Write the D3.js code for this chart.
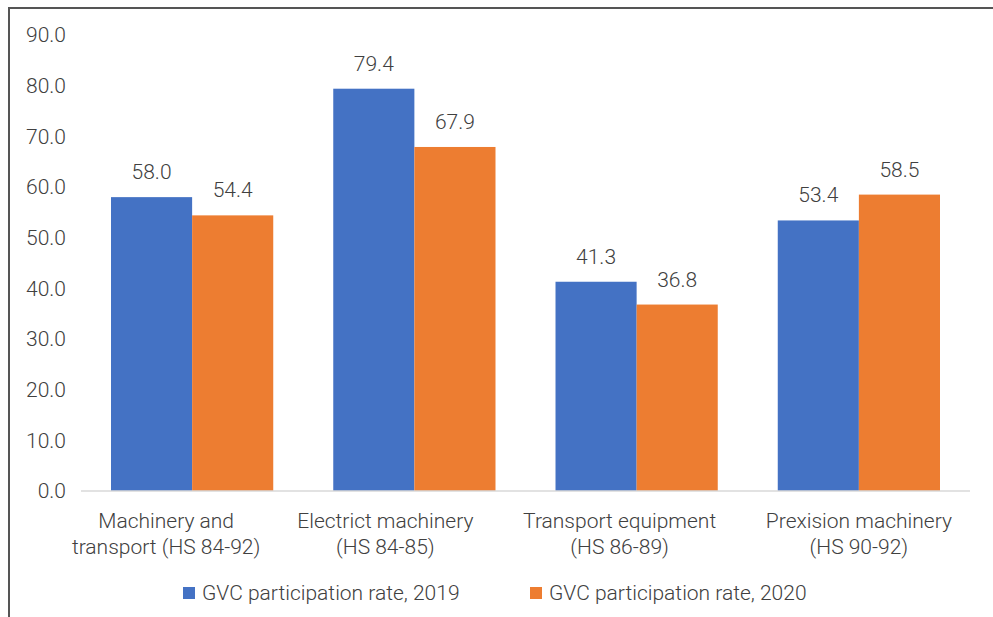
<!DOCTYPE html>
<html>
<head>
<meta charset="utf-8">
<script src="https://cdn.jsdelivr.net/npm/d3@7"></script>
<style>
  html, body { margin: 0; padding: 0; background: #fff; }
  svg { display: block; font-family: Roboto, "Noto Sans", sans-serif; font-weight: 300; }
</style>
</head>
<body>
<svg id="chart" width="993" height="617"></svg>
<script>
// Category labels (two lines each)
const categories = [
  ["Machinery and", "transport (HS 84-92)"],
  ["Electrict machinery", "(HS 84-85)"],
  ["Transport equipment", "(HS 86-89)"],
  ["Prexision machinery", "(HS 90-92)"]
];
const seriesNames = ["GVC participation rate, 2019", "GVC participation rate, 2020"];
const values2019 = [58.0, 79.4, 41.3, 53.4];
const values2020 = [54.4, 67.9, 36.8, 58.5];
const yTicks = [0, 10, 20, 30, 40, 50, 60, 70, 80, 90];
const colors = ["#4472C4", "#ED7D31"];

const svg = d3.select("#chart");
const textColor = "#404040";
const fontSize = 21;

// Outer frame lines (top and left)
svg.append("line").attr("x1", 8).attr("x2", 993).attr("y1", 8).attr("y2", 8)
  .attr("stroke", "#555").attr("stroke-width", 2);
svg.append("line").attr("x1", 9).attr("x2", 9).attr("y1", 7).attr("y2", 617)
  .attr("stroke", "#555").attr("stroke-width", 2);

const plot = { left: 81, right: 970, top: 35, bottom: 491 };

const x0 = d3.scaleBand()
  .domain(d3.range(categories.length))
  .range([plot.left, plot.right])
  .paddingInner(0.27).paddingOuter(0.135);
const x1 = d3.scaleBand().domain([0, 1]).range([0, x0.bandwidth()]);
const y = d3.scaleLinear().domain([0, 90]).range([plot.bottom, plot.top]);

// Y axis labels
const yAxis = svg.append("g").attr("transform", `translate(${plot.left},0)`)
  .call(d3.axisLeft(y).tickValues(yTicks).tickFormat(d3.format(".1f")).tickSize(0).tickPadding(15));
yAxis.select(".domain").remove();
yAxis.selectAll("text").attr("font-size", fontSize).attr("fill", textColor)
  .attr("font-family", "Roboto, 'Noto Sans', sans-serif").attr("font-weight", 300);

// Bars
const rows = categories.map((c, i) => ({ i, vals: [values2019[i], values2020[i]] }));
const groups = svg.append("g").selectAll("g").data(rows).join("g")
  .attr("transform", d => `translate(${x0(d.i)},0)`);
groups.selectAll("rect").data(d => d.vals.map((v, s) => ({ v, s }))).join("rect")
  .attr("x", d => x1(d.s)).attr("width", x1.bandwidth())
  .attr("y", d => y(d.v)).attr("height", d => y(0) - y(d.v))
  .attr("fill", d => colors[d.s]);
groups.selectAll("text.val").data(d => d.vals.map((v, s) => ({ v, s }))).join("text")
  .attr("class", "val")
  .attr("x", d => x1(d.s) + x1.bandwidth() / 2)
  .attr("y", d => y(d.v) - 18)
  .attr("text-anchor", "middle").attr("font-size", fontSize).attr("fill", textColor)
  .text(d => d3.format(".1f")(d.v));

// Baseline
svg.append("line").attr("x1", plot.left).attr("x2", plot.right)
  .attr("y1", y(0)).attr("y2", y(0)).attr("stroke", "#d9d9d9").attr("stroke-width", 1.5);

// Category labels, nudged horizontally where the wrapped text sits off-centre
const labelShift = [-26, -29, -17, 0];
const cat = svg.append("g").selectAll("text").data(categories).join("text")
  .attr("text-anchor", "middle").attr("font-size", fontSize).attr("fill", textColor)
  .attr("x", (d, i) => x0(i) + x0.bandwidth() / 2 + labelShift[i]);
cat.selectAll("tspan").data(d => d).join("tspan")
  .attr("x", function () { return d3.select(this.parentNode).attr("x"); })
  .attr("y", (d, j) => 528 + j * 26)
  .text(d => d);

// Legend
const legendX = [183, 530];
const legend = svg.append("g").selectAll("g").data(seriesNames).join("g")
  .attr("transform", (d, i) => `translate(${legendX[i]},592)`);
legend.append("rect").attr("x", 0).attr("y", -5).attr("width", 12).attr("height", 12)
  .attr("fill", (d, i) => colors[i]);
legend.append("text").attr("x", 19).attr("y", 8).attr("font-size", fontSize).attr("fill", textColor)
  .text(d => d);
</script>
</body>
</html>
